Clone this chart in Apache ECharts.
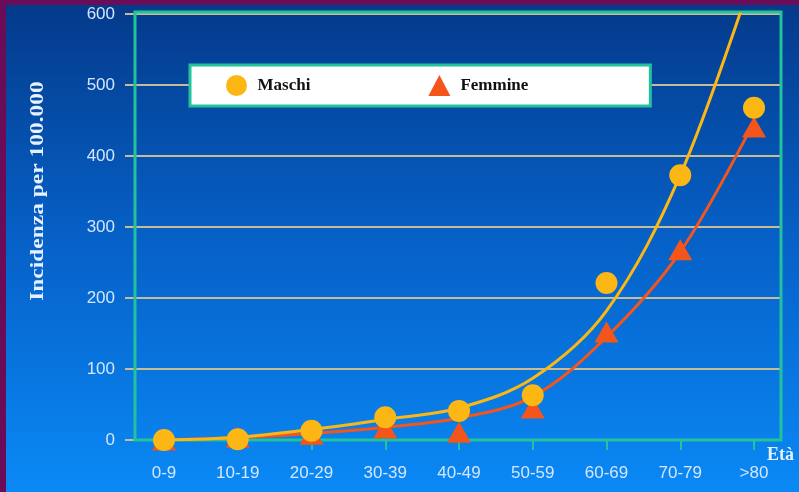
<!DOCTYPE html>
<html>
<head>
<meta charset="utf-8">
<script src="https://cdn.jsdelivr.net/npm/echarts@6/dist/echarts.min.js"></script>
<style>
  html, body { margin: 0; padding: 0; background: #6a0c57; }
  #wrap { position: absolute; left: 0; top: 0; width: 799px; height: 492px; background: #6a0c57; }
  #main { position: absolute; left: 6px; top: 5px; width: 793px; height: 487px; }
</style>
</head>
<body>
<div id="wrap"><div id="main"></div></div>
<script>
// ---- data ----
const categories = ['0-9', '10-19', '20-29', '30-39', '40-49', '50-59', '60-69', '70-79', '>80'];
const maschi      = [0, 1, 13, 32, 41, 63, 221, 373, 468];
const femmine     = [0, 4, 8, 17, 11, 45, 152, 268, 441];
const maschiTrend = [0, 4, 15, 29, 45, 87, 182, 373, 660];
const femmineTrend= [0, 3, 9, 18, 31, 61, 145, 265, 448];
const yTicks = [0, 100, 200, 300, 400, 500, 600];

const TEAL = '#22c29c';
const TAN = '#c9bb94';
const LABEL = '#d3e6ff';
const YEL = '#fdb714';
const RED = '#f3551b';

const chart = echarts.init(document.getElementById('main'), null, { renderer: 'canvas' });

const option = {
  backgroundColor: {
    type: 'linear', x: 0, y: 0, x2: 0, y2: 1,
    colorStops: [
      { offset: 0, color: '#043a8b' },
      { offset: 0.5, color: '#0662c9' },
      { offset: 1, color: '#0a89f5' }
    ]
  },
  animation: false,
  grid: [
    { left: 158, right: 45, top: 9, bottom: 52 },
    { left: 129, right: 18, top: 9, bottom: 52 },
    { left: 129, right: 18, top: 7, bottom: 52, show: true, borderColor: TEAL, borderWidth: 3, backgroundColor: 'transparent', z: 3 }
  ],
  xAxis: [
    {
      type: 'category', gridIndex: 0, data: categories, boundaryGap: false,
      axisLine: { show: false },
      axisTick: { show: true, alignWithLabel: true, length: 10, lineStyle: { color: TEAL, width: 2 } },
      axisLabel: { color: LABEL, fontSize: 17, fontFamily: 'Liberation Sans, Arial, sans-serif', margin: 25 },
      splitLine: { show: false }
    },
    { type: 'value', gridIndex: 1, show: false },
    { type: 'value', gridIndex: 2, show: false }
  ],
  yAxis: [
    { type: 'value', gridIndex: 0, min: 0, max: 600, show: false, splitLine: { show: false } },
    {
      type: 'value', gridIndex: 1, min: yTicks[0], max: yTicks[yTicks.length - 1], interval: 100,
      axisLine: { show: false },
      axisTick: { show: true, inside: false, length: 10, lineStyle: { color: TAN, width: 2 } },
      axisLabel: { color: LABEL, fontSize: 17, fontFamily: 'Liberation Sans, Arial, sans-serif', margin: 20 },
      splitLine: { show: true, lineStyle: { color: TAN, width: 2 } }
    },
    { type: 'value', gridIndex: 2, show: false }
  ],
  legend: {
    left: 184, top: 60,
    orient: 'horizontal',
    data: [
      { name: 'Maschi', icon: 'circle' },
      { name: 'Femmine', icon: 'triangle' }
    ],
    itemWidth: 22, itemHeight: 21, itemGap: 118,
    padding: [10, 122, 10, 36],
    backgroundColor: '#ffffff',
    borderColor: TEAL, borderWidth: 3,
    textStyle: { color: '#111', fontSize: 17, fontWeight: 'bold', fontFamily: 'Liberation Serif, Times New Roman, serif', padding: [0, 0, 0, 5] },
    z: 10
  },
  graphic: [
    {
      type: 'text', rotation: Math.PI / 2,
      x: 32, y: 186,
      style: {
        text: 'Incidenza per 100.000',
        fill: '#e6f0ff',
        font: 'bold 17px "Liberation Serif", "Times New Roman", serif',
        textAlign: 'center', textVerticalAlign: 'middle'
      },
      scaleX: 1.38, scaleY: 1.05
    },
    {
      type: 'text', x: 761, y: 450,
      style: {
        text: 'Età',
        fill: '#e6f0ff',
        font: 'bold 18px "Liberation Serif", "Times New Roman", serif',
        textAlign: 'left', textVerticalAlign: 'middle'
      }
    }
  ],
  series: [
    {
      name: 'trendF', type: 'line', xAxisIndex: 0, yAxisIndex: 0,
      data: femmineTrend, smooth: 0.35, showSymbol: false, symbol: 'none',
      lineStyle: { color: RED, width: 3 }, z: 4, clip: true
    },
    {
      name: 'trendM', type: 'line', xAxisIndex: 0, yAxisIndex: 0,
      data: maschiTrend, smooth: 0.35, showSymbol: false, symbol: 'none',
      lineStyle: { color: YEL, width: 3 }, z: 5, clip: true
    },
    {
      name: 'Femmine', type: 'scatter', xAxisIndex: 0, yAxisIndex: 0,
      data: femmine, symbol: 'triangle', symbolSize: [24, 21],
      itemStyle: { color: RED, opacity: 1 }, z: 6, clip: false
    },
    {
      name: 'Maschi', type: 'scatter', xAxisIndex: 0, yAxisIndex: 0,
      data: maschi, symbol: 'circle', symbolSize: 22,
      itemStyle: { color: YEL, opacity: 1 }, z: 7, clip: false
    }
  ]
};
chart.setOption(option);
</script>
</body>
</html>
